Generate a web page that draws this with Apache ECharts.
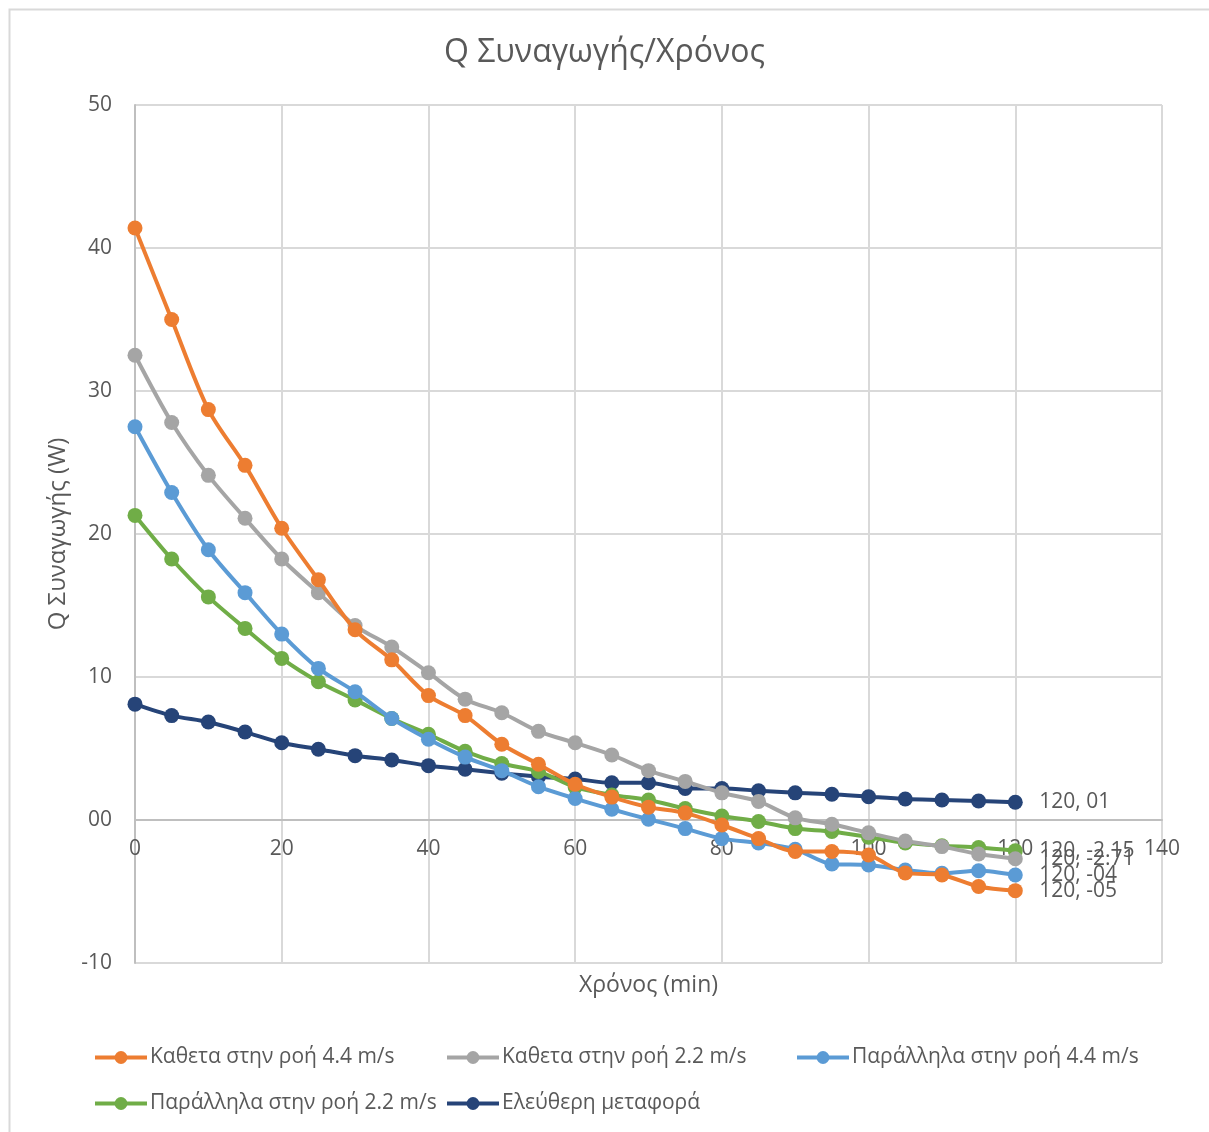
<!DOCTYPE html>
<html>
<head>
<meta charset="utf-8">
<script src="https://cdn.jsdelivr.net/npm/echarts@6/dist/echarts.min.js"></script>
<style>
  html, body { margin: 0; padding: 0; background: #fff; }
  #chart { width: 1209px; height: 1132px; }
</style>
</head>
<body>
<div id="chart"></div>
<script>
// Time in minutes (x values shared by all series)
const timeMin = [0, 5, 10, 15, 20, 25, 30, 35, 40, 45, 50, 55, 60, 65, 70, 75, 80, 85, 90, 95, 100, 105, 110, 115, 120];

// Convective heat Q (W) for each configuration
const kathetaFast = [41.4, 35.0, 28.7, 24.8, 20.4, 16.8, 13.3, 11.2, 8.7, 7.3, 5.3, 3.9, 2.5, 1.6, 0.9, 0.5, -0.35, -1.3, -2.2, -2.2, -2.45, -3.7, -3.85, -4.65, -4.94];
const kathetaSlow = [32.5, 27.8, 24.1, 21.1, 18.25, 15.9, 13.6, 12.1, 10.3, 8.45, 7.5, 6.2, 5.4, 4.55, 3.45, 2.7, 1.9, 1.3, 0.15, -0.3, -0.9, -1.47, -1.86, -2.38, -2.71];
const parallFast  = [27.5, 22.9, 18.9, 15.9, 13.0, 10.6, 8.97, 7.1, 5.65, 4.4, 3.45, 2.33, 1.5, 0.75, 0.05, -0.6, -1.3, -1.6, -2.05, -3.08, -3.15, -3.5, -3.73, -3.55, -3.85];
const parallSlow  = [21.3, 18.25, 15.6, 13.4, 11.3, 9.67, 8.4, 7.1, 6.0, 4.8, 3.95, 3.4, 2.3, 1.75, 1.4, 0.8, 0.28, -0.1, -0.6, -0.8, -1.2, -1.6, -1.8, -1.93, -2.15];
const freeConv    = [8.1, 7.3, 6.85, 6.15, 5.4, 4.95, 4.5, 4.2, 3.8, 3.55, 3.27, 3.03, 2.87, 2.6, 2.6, 2.2, 2.2, 2.05, 1.9, 1.8, 1.63, 1.47, 1.4, 1.33, 1.24];

const seriesNames = [
  'Καθετα στην ροή 4.4 m/s',
  'Καθετα στην ροή 2.2 m/s',
  'Παράλληλα στην ροή 4.4 m/s',
  'Παράλληλα στην ροή 2.2 m/s',
  'Ελεύθερη μεταφορά'
];
const seriesValues = [kathetaFast, kathetaSlow, parallFast, parallSlow, freeConv];
const seriesColors = ['#ED7D31', '#A5A5A5', '#5B9BD5', '#70AD47', '#264478'];
// Number format of the end-point label: 'pad' -> "00" style, 'dec' -> two decimals
const endFormats = ['pad', 'dec', 'pad', 'dec', 'pad'];

const X_MIN = 0, X_MAX = 140, X_STEP = 20;
const Y_MIN = -10, Y_MAX = 50, Y_STEP = 10;

const FONT = '"Open Sans", "Noto Sans", sans-serif';
const TXT = '#595959';

// plot area box
const GRID = { left: 135, right: 47, top: 105, bottom: 169 };
const PLOT_H = 1132 - GRID.top - GRID.bottom;
// shift the horizontal axis up so it sits on the y = 0 line
const xAxisOffset = -PLOT_H * (0 - Y_MIN) / (Y_MAX - Y_MIN);

function fmtNumber(v, mode) {
  if (mode === 'dec') return v.toFixed(2);
  const r = Math.round(v);
  const s = String(Math.abs(r)).padStart(2, '0');
  return (r < 0 ? '-' : '') + s;
}

const chart = echarts.init(document.getElementById('chart'), null, { renderer: 'canvas' });

const legendPos = [
  { left: 88, top: 1042 },
  { left: 440, top: 1042 },
  { left: 790, top: 1042 },
  { left: 88, top: 1088 },
  { left: 440, top: 1088 }
];

const option = {
  backgroundColor: '#ffffff',
  animation: false,
  textStyle: { fontFamily: FONT },
  title: {
    text: 'Q Συναγωγής/Χρόνος',
    left: 'center',
    top: 32,
    textStyle: { fontFamily: FONT, fontSize: 32, fontWeight: 'normal', color: TXT }
  },
  graphic: [{
    type: 'rect',
    left: 7, top: 7,
    shape: { width: 1300, height: 1300 },
    style: { fill: 'none', stroke: '#d9d9d9', lineWidth: 2 },
    silent: true
  }],
  legend: seriesNames.map((n, i) => ({
    data: [n],
    left: legendPos[i].left,
    top: legendPos[i].top,
    itemWidth: 52,
    itemHeight: 16,
    itemGap: 6,
    lineStyle: { width: 4 },
    textStyle: { fontFamily: FONT, fontSize: 21, color: TXT, padding: [0, 0, 0, -2] }
  })),
  grid: Object.assign({ containLabel: false, outerBoundsMode: 'none' }, GRID),
  xAxis: {
    type: 'value',
    min: X_MIN, max: X_MAX, interval: X_STEP,
    position: 'bottom',
    offset: xAxisOffset,
    name: 'Χρόνος (min)',
    nameLocation: 'middle',
    nameGap: 154,
    nameTextStyle: { fontFamily: FONT, fontSize: 23, color: TXT },
    axisLine: { onZero: false, lineStyle: { color: '#bfbfbf', width: 2 } },
    axisTick: { show: false },
    axisLabel: { fontFamily: FONT, fontSize: 21, color: TXT, margin: 19 },
    splitLine: { show: true, lineStyle: { color: '#d9d9d9', width: 2 } }
  },
  yAxis: {
    type: 'value',
    min: Y_MIN, max: Y_MAX, interval: Y_STEP,
    name: 'Q Συναγωγής (W)',
    nameLocation: 'middle',
    nameGap: 64,
    nameRotate: 90,
    nameTextStyle: { fontFamily: FONT, fontSize: 24, color: TXT },
    axisLine: { show: true, onZero: false, lineStyle: { color: '#bfbfbf', width: 2 } },
    axisTick: { show: false },
    axisLabel: {
      fontFamily: FONT, fontSize: 21, color: TXT, margin: 23,
      formatter: v => (v === 0 ? '00' : String(v))
    },
    splitLine: { show: true, lineStyle: { color: '#d9d9d9', width: 2 } }
  },
  series: seriesNames.map((n, i) => ({
    name: n,
    type: 'line',
    data: timeMin.map((t, k) => [t, seriesValues[i][k]]),
    smooth: 0.3,
    symbol: 'circle',
    symbolSize: 15,
    color: seriesColors[i],
    lineStyle: { width: 4, color: seriesColors[i] },
    itemStyle: { color: seriesColors[i] },
    z: 10 - i,
    endLabel: {
      show: true,
      distance: 24,
      fontFamily: FONT,
      fontSize: 21,
      color: TXT,
      formatter: p => p.value[0] + ', ' + fmtNumber(p.value[1], endFormats[i])
    }
  }))
};

chart.setOption(option);
</script>
</body>
</html>
